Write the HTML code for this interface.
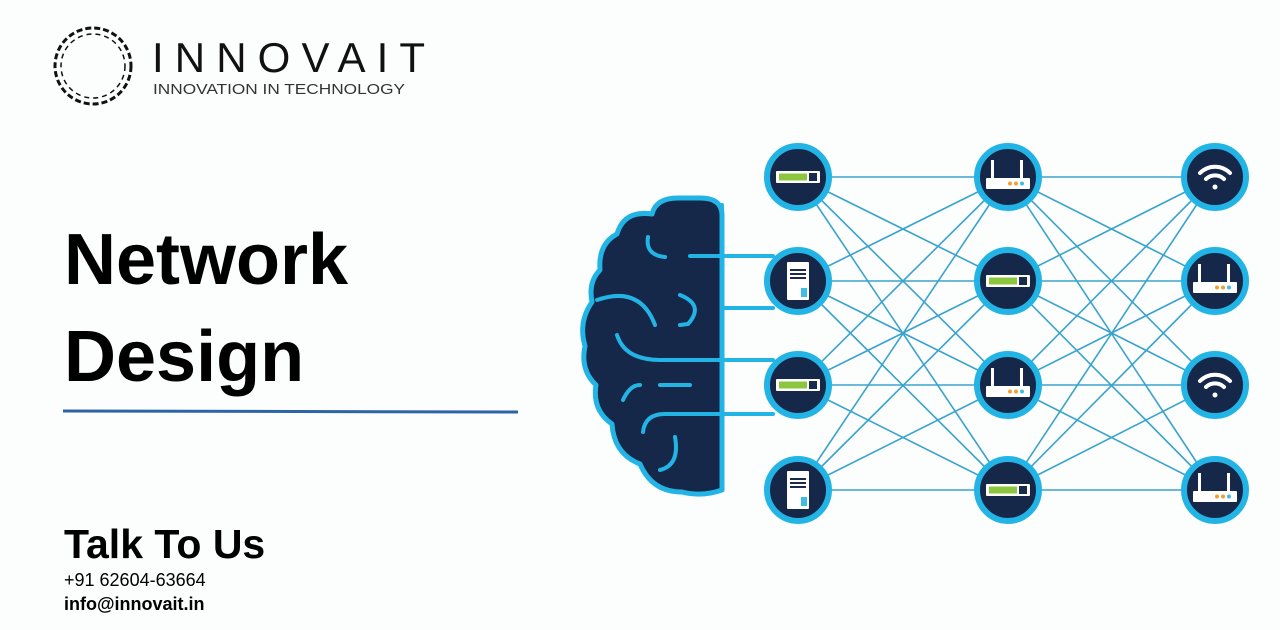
<!DOCTYPE html>
<html><head><meta charset="utf-8"><style>
body{margin:0;width:1280px;height:630px;background:#fcfdfd;font-family:"Liberation Sans",sans-serif;overflow:hidden;position:relative}
.t{position:absolute;color:#000}
</style></head><body>
<svg width="1280" height="630" style="position:absolute;left:0;top:0">
<defs>
<g id="sw"><rect x="-22" y="-6" width="44" height="12" fill="#fff" rx="1"/><rect x="-19" y="-3.5" width="28" height="7" fill="#8cc63f"/><rect x="11" y="-4" width="8" height="8" fill="#1a2a4a"/></g>
<g id="sv"><rect x="-11" y="-19" width="22" height="38" fill="#fff" rx="1"/><rect x="-8" y="-12" width="16" height="2" fill="#1a2a4a"/><rect x="-8" y="-8" width="16" height="2" fill="#1a2a4a"/><rect x="-8" y="-4" width="16" height="2" fill="#1a2a4a"/><rect x="3" y="7" width="6" height="9" fill="#3fbde8"/></g>
<g id="rt"><rect x="-22" y="1" width="44" height="11" fill="#fff" rx="1"/><rect x="-17" y="-17" width="3" height="18" fill="#fff"/><rect x="12" y="-17" width="3" height="18" fill="#fff"/><circle cx="2" cy="6.5" r="2" fill="#f0a030"/><circle cx="8" cy="6.5" r="2" fill="#f0a030"/><circle cx="14" cy="6.5" r="2" fill="#3fbde8"/></g>
<g id="wf" fill="none" stroke="#fff" stroke-width="4" stroke-linecap="round"><path d="M-15,-4 A21,21 0 0 1 15,-4"/><path d="M-9,2 A13,13 0 0 1 9,2"/><circle cx="0" cy="10" r="2.5" fill="#fff" stroke="none"/></g>
</defs>
<g stroke="#3aa3cc" stroke-width="1.6">
<line x1="798" y1="177" x2="1008" y2="177"/><line x1="798" y1="177" x2="1008" y2="281"/><line x1="798" y1="177" x2="1008" y2="385"/><line x1="798" y1="177" x2="1008" y2="490"/>
<line x1="798" y1="281" x2="1008" y2="177"/><line x1="798" y1="281" x2="1008" y2="281"/><line x1="798" y1="281" x2="1008" y2="385"/><line x1="798" y1="281" x2="1008" y2="490"/>
<line x1="798" y1="385" x2="1008" y2="177"/><line x1="798" y1="385" x2="1008" y2="281"/><line x1="798" y1="385" x2="1008" y2="385"/><line x1="798" y1="385" x2="1008" y2="490"/>
<line x1="798" y1="490" x2="1008" y2="177"/><line x1="798" y1="490" x2="1008" y2="281"/><line x1="798" y1="490" x2="1008" y2="385"/><line x1="798" y1="490" x2="1008" y2="490"/>
<line x1="1008" y1="177" x2="1215" y2="177"/><line x1="1008" y1="177" x2="1215" y2="281"/><line x1="1008" y1="177" x2="1215" y2="385"/><line x1="1008" y1="177" x2="1215" y2="490"/>
<line x1="1008" y1="281" x2="1215" y2="177"/><line x1="1008" y1="281" x2="1215" y2="281"/><line x1="1008" y1="281" x2="1215" y2="385"/><line x1="1008" y1="281" x2="1215" y2="490"/>
<line x1="1008" y1="385" x2="1215" y2="177"/><line x1="1008" y1="385" x2="1215" y2="281"/><line x1="1008" y1="385" x2="1215" y2="385"/><line x1="1008" y1="385" x2="1215" y2="490"/>
<line x1="1008" y1="490" x2="1215" y2="177"/><line x1="1008" y1="490" x2="1215" y2="281"/><line x1="1008" y1="490" x2="1215" y2="385"/><line x1="1008" y1="490" x2="1215" y2="490"/>
</g>
<path d="M722,215 Q722,198 700,198 L678,198 Q656,198 652,214 Q624,210 617,234 Q598,244 600,270 Q588,282 592,302 Q578,322 585,346 Q580,370 596,385 Q592,410 612,424 Q614,454 640,464 Q652,492 682,492 Q702,497 722,490 Z" fill="#15284a" stroke="#23b4e6" stroke-width="5" stroke-linejoin="round"/>
<g fill="none" stroke="#23b4e6" stroke-width="4" stroke-linecap="round">
<path d="M648,237 Q645,255 665,257"/>
<path d="M690,256 L773,256"/><path d="M722,308 L773,308"/>
<path d="M680,295 Q705,305 688,324 L680,325"/>
<path d="M597,300 Q640,285 655,325"/>
<path d="M617,335 Q625,360 660,360 L773,360"/>
<path d="M623,400 Q630,385 640,385"/><path d="M660,385 L690,385"/>
<path d="M643,432 Q645,414 665,414 L773,414"/><path d="M675,437 Q680,465 660,470"/>
<path d="M722,205 L722,490"/>
</g>
<g fill="#15284a" stroke="#23b4e6" stroke-width="6">
<circle cx="798" cy="177" r="31"/><circle cx="798" cy="281" r="31"/><circle cx="798" cy="385" r="31"/><circle cx="798" cy="490" r="31"/>
<circle cx="1008" cy="177" r="31"/><circle cx="1008" cy="281" r="31"/><circle cx="1008" cy="385" r="31"/><circle cx="1008" cy="490" r="31"/>
<circle cx="1215" cy="177" r="31"/><circle cx="1215" cy="281" r="31"/><circle cx="1215" cy="385" r="31"/><circle cx="1215" cy="490" r="31"/>
</g>
<use href="#sw" x="798" y="177"/><use href="#sv" x="798" y="281"/><use href="#sw" x="798" y="385"/><use href="#sv" x="798" y="490"/>
<use href="#rt" x="1008" y="177"/><use href="#sw" x="1008" y="281"/><use href="#rt" x="1008" y="385"/><use href="#sw" x="1008" y="490"/>
<use href="#wf" x="1215" y="177"/><use href="#rt" x="1215" y="281"/><use href="#wf" x="1215" y="385"/><use href="#rt" x="1215" y="490"/>
<circle cx="93" cy="66" r="38" fill="none" stroke="#111" stroke-width="3" stroke-dasharray="6 3"/>
<circle cx="93" cy="66" r="32" fill="none" stroke="#111" stroke-width="1.5" stroke-dasharray="5 4"/>
<text x="152" y="72" font-family="Liberation Sans" font-size="42" fill="#111" textLength="273" lengthAdjust="spacing">INNOVAIT</text>
<text x="153" y="94" font-family="Liberation Sans" font-size="15" fill="#333" textLength="252" lengthAdjust="spacingAndGlyphs">INNOVATION IN TECHNOLOGY</text>
<line x1="63" y1="411" x2="518" y2="412" stroke="#2d64a6" stroke-width="3"/>
</svg>
<div class="t" style="left:64px;top:212px;font-size:72px;font-weight:bold;line-height:97px">Network<br>Design</div>
<div class="t" style="left:64px;top:519px;font-size:41px;font-weight:bold;line-height:50px">Talk To Us</div>
<div class="t" style="left:64px;top:569px;font-size:18px;line-height:22px">+91 62604-63664</div>
<div class="t" style="left:64px;top:593px;font-size:18px;font-weight:bold;line-height:22px">info@innovait.in</div>
</body></html>
